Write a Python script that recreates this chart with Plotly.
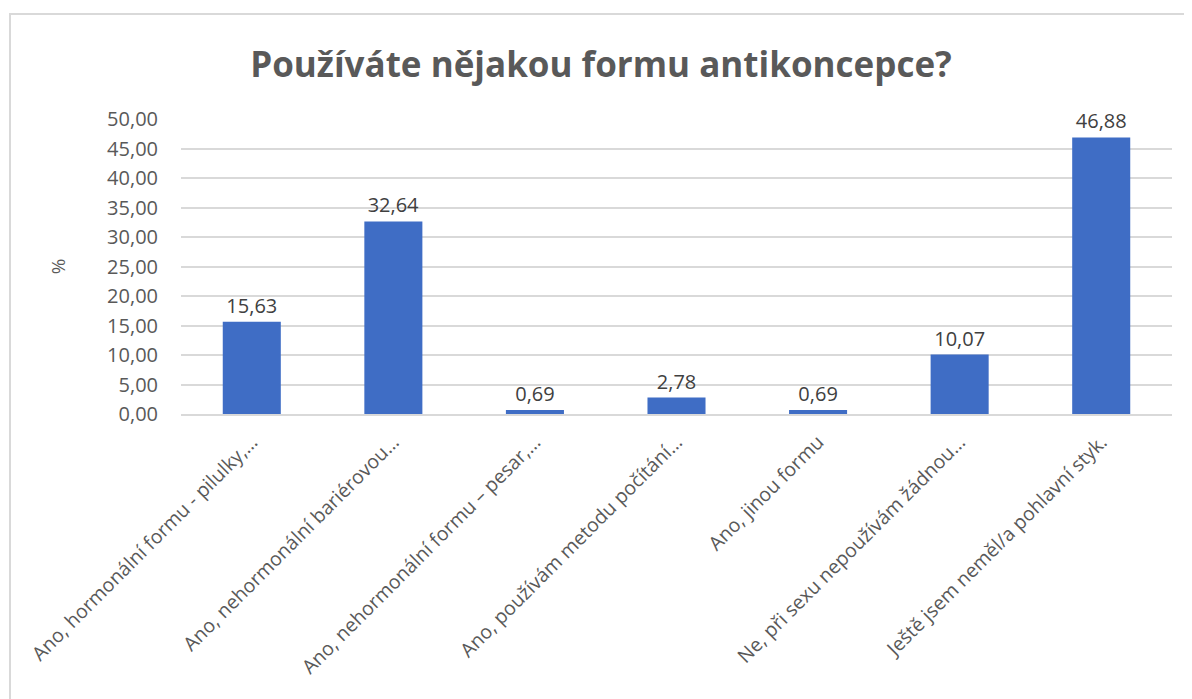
import plotly.graph_objects as go

categories = [
    "Ano, hormonální formu - pilulky,…",
    "Ano, nehormonální bariérovou…",
    "Ano, nehormonální formu – pesar,…",
    "Ano, používám metodu počítání…",
    "Ano, jinou formu",
    "Ne, při sexu nepoužívám žádnou…",
    "Ještě jsem neměl/a pohlavní styk.",
]
values = [15.63, 32.64, 0.69, 2.78, 0.69, 10.07, 46.88]
labels = ["15,63", "32,64", "0,69", "2,78", "0,69", "10,07", "46,88"]
tick_vals = [0, 5, 10, 15, 20, 25, 30, 35, 40, 45, 50]
tick_text = ["0,00", "5,00", "10,00", "15,00", "20,00", "25,00", "30,00", "35,00", "40,00", "45,00", "50,00"]

W, H = 1192, 699
OFF = 8  # page body offset
L, R, T, B = 181 - OFF, 1192 - (1172 - OFF), 119 - OFF, 699 - (414 - OFF)

fig = go.Figure(go.Bar(
    x=categories, y=values, text=labels, textposition="outside",
    textfont=dict(size=20, color="#404040", family="Open Sans"),
    marker=dict(color="#3F6DC5", line=dict(width=0)),
    width=0.41, cliponaxis=False,
))

pw, ph = W - L - R, H - T - B
def px2x(px): return (px - OFF - L) / pw
def py2y(py): return (H - B - (py - OFF)) / ph

fig.add_shape(type="rect", xref="paper", yref="paper",
              x0=px2x(10), x1=px2x(1205), y0=py2y(720), y1=py2y(14),
              line=dict(color="#D9D9D9", width=2), layer="below")

fig.update_layout(
    width=W, height=H,
    margin=dict(l=L, r=R, t=T, b=B, autoexpand=False),
    paper_bgcolor="white", plot_bgcolor="white",
    title=dict(text="<b>Používáte nějakou formu antikoncepce?</b>",
               x=(601 - OFF) / W, xanchor="center",
               y=1 - (65 - OFF) / H, yanchor="middle",
               font=dict(size=35, color="#595959", family="Open Sans")),
    showlegend=False,
    xaxis=dict(tickangle=-45, tickfont=dict(size=19.5, color="#595959", family="Open Sans"),
               showline=True, linecolor="#D9D9D9", linewidth=2, ticks="", showgrid=False,
               automargin=False, ticklabelstandoff=7),
    yaxis=dict(range=[0, 50], tickvals=tick_vals, ticktext=tick_text,
               tickfont=dict(size=20, color="#595959", family="Open Sans"),
               showgrid=True, gridcolor="#D9D9D9", gridwidth=1.5, zeroline=False,
               ticks="outside", tickcolor="white", ticklen=18, automargin=False,
               title=dict(text="%", font=dict(size=19, color="#595959", family="Open Sans"), standoff=36)),
)
fig.write_html("out.html")
